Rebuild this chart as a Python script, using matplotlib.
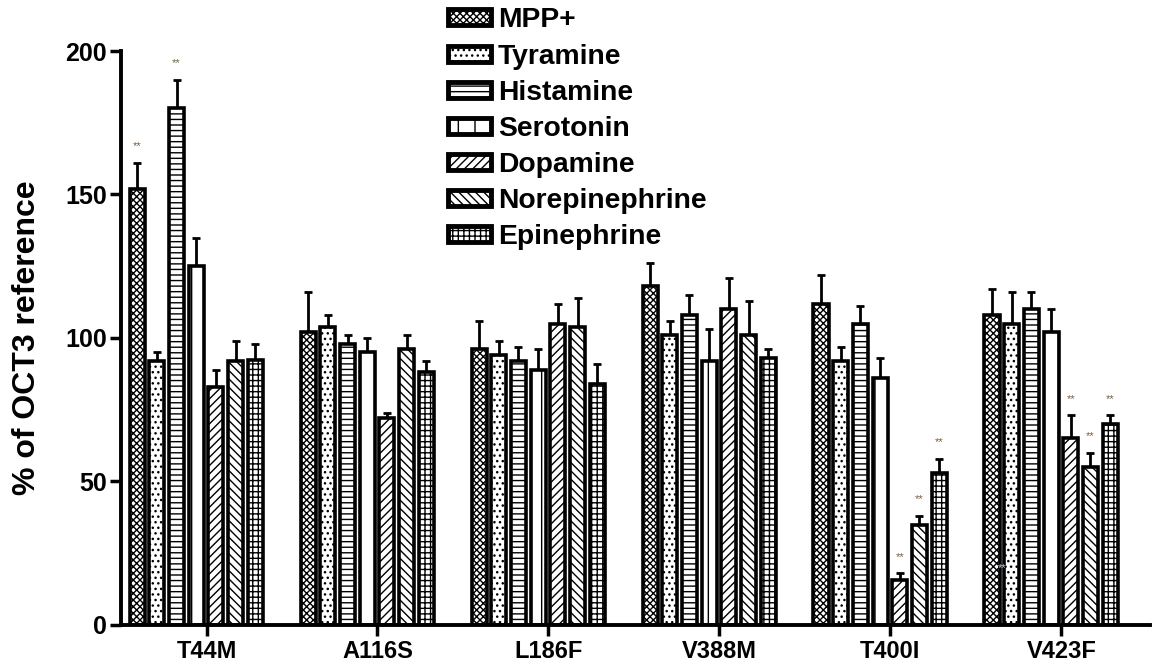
import matplotlib.pyplot as plt
from matplotlib.patches import Patch

plt.rcParams['font.family'] = ['Liberation Sans', 'DejaVu Sans']
plt.rcParams['font.weight'] = 'bold'
plt.rcParams['hatch.linewidth'] = 1.0

groups = ['T44M', 'A116S', 'L186F', 'V388M', 'T400I', 'V423F']
compounds = ['MPP+', 'Tyramine', 'Histamine', 'Serotonin', 'Dopamine',
             'Norepinephrine', 'Epinephrine']

# mean values per compound (one entry per mutant)
mpp = [152, 102, 96, 118, 112, 108]
tyramine = [92, 104, 94, 101, 92, 105]
histamine = [180, 98, 92, 108, 105, 110]
serotonin = [125, 95, 89, 92, 86, 102]
dopamine = [83, 72, 105, 110, 15.5, 65]
norepinephrine = [92, 96, 104, 101, 35, 55]
epinephrine = [92.5, 88, 84, 93, 53, 70]

# upper error (SEM)
mpp_err = [9, 14, 10, 8, 10, 9]
tyramine_err = [3, 4, 5, 5, 5, 11]
histamine_err = [10, 3, 5, 7, 6, 6]
serotonin_err = [10, 5, 7, 11, 7, 8]
dopamine_err = [6, 2, 7, 11, 2.5, 8]
norepinephrine_err = [7, 5, 10, 12, 3, 5]
epinephrine_err = [5.5, 4, 7, 3, 5, 3]

# significance markers: (group index, compound index)
sig = [(0, 0), (0, 2), (4, 4), (4, 5), (4, 6), (5, 4), (5, 5), (5, 6)]

values = [mpp, tyramine, histamine, serotonin, dopamine, norepinephrine, epinephrine]
errors = [mpp_err, tyramine_err, histamine_err, serotonin_err, dopamine_err,
          norepinephrine_err, epinephrine_err]
hatches = ['xxxxx', '...', '---', '|', '////', '\\\\\\\\', '+++']

fig = plt.figure(figsize=(11.56, 6.65), dpi=100)
ax = fig.add_axes([0.1047, 0.0602, 0.8903, 0.8631])

step = 0.1152
width = 0.088
for j in range(7):
    xs = [i + (j - 3) * step for i in range(len(groups))]
    ax.bar(xs, values[j], width=width, facecolor='white', edgecolor='black',
           linewidth=2.6, hatch=hatches[j], zorder=2)
    ax.errorbar(xs, values[j], yerr=[[0] * len(groups), errors[j]], fmt='none',
                ecolor='black', elinewidth=2, capsize=3, capthick=2, zorder=1)

for gi, cj in sig:
    x = gi + (cj - 3) * step
    y = values[cj][gi] + errors[cj][gi] + 4
    ax.text(x, y, '**', ha='center', va='bottom', fontsize=8, color='#7a6040',
            fontweight='normal')
ax.text(5 + (-2.5) * step, 18, '**', ha='center', va='bottom', fontsize=8,
        color='#b8c8dc', fontweight='normal')

ax.set_ylim(0, 200)
ax.set_xlim(-0.44, 5.58)
ax.set_yticks([0, 50, 100, 150, 200])
ax.set_xticks([i + 0.06 for i in range(len(groups))])
ax.set_xticklabels(groups, fontsize=17, fontweight='bold')
ax.tick_params(axis='y', labelsize=18, width=2.5, length=8, pad=2)
ax.tick_params(axis='x', width=2.5, length=8, pad=3)
for lab in ax.get_yticklabels():
    lab.set_fontweight('bold')
ax.set_ylabel('% of OCT3 reference', fontsize=23, fontweight='bold', labelpad=17)

for s in ['top', 'right']:
    ax.spines[s].set_visible(False)
for s in ['left', 'bottom']:
    ax.spines[s].set_linewidth(2.8)

handles = [Patch(facecolor='white', edgecolor='black', linewidth=3.5, hatch=h)
           for h in hatches]
fig.legend(handles, compounds, loc='upper left', bbox_to_anchor=(0.366, 1.027),
           frameon=False, handlelength=1.5, handleheight=0.5,
           labelspacing=0.36, handletextpad=0.25,
           prop={'weight': 'bold', 'size': 20.3})

fig.savefig('out.png', dpi=100)
